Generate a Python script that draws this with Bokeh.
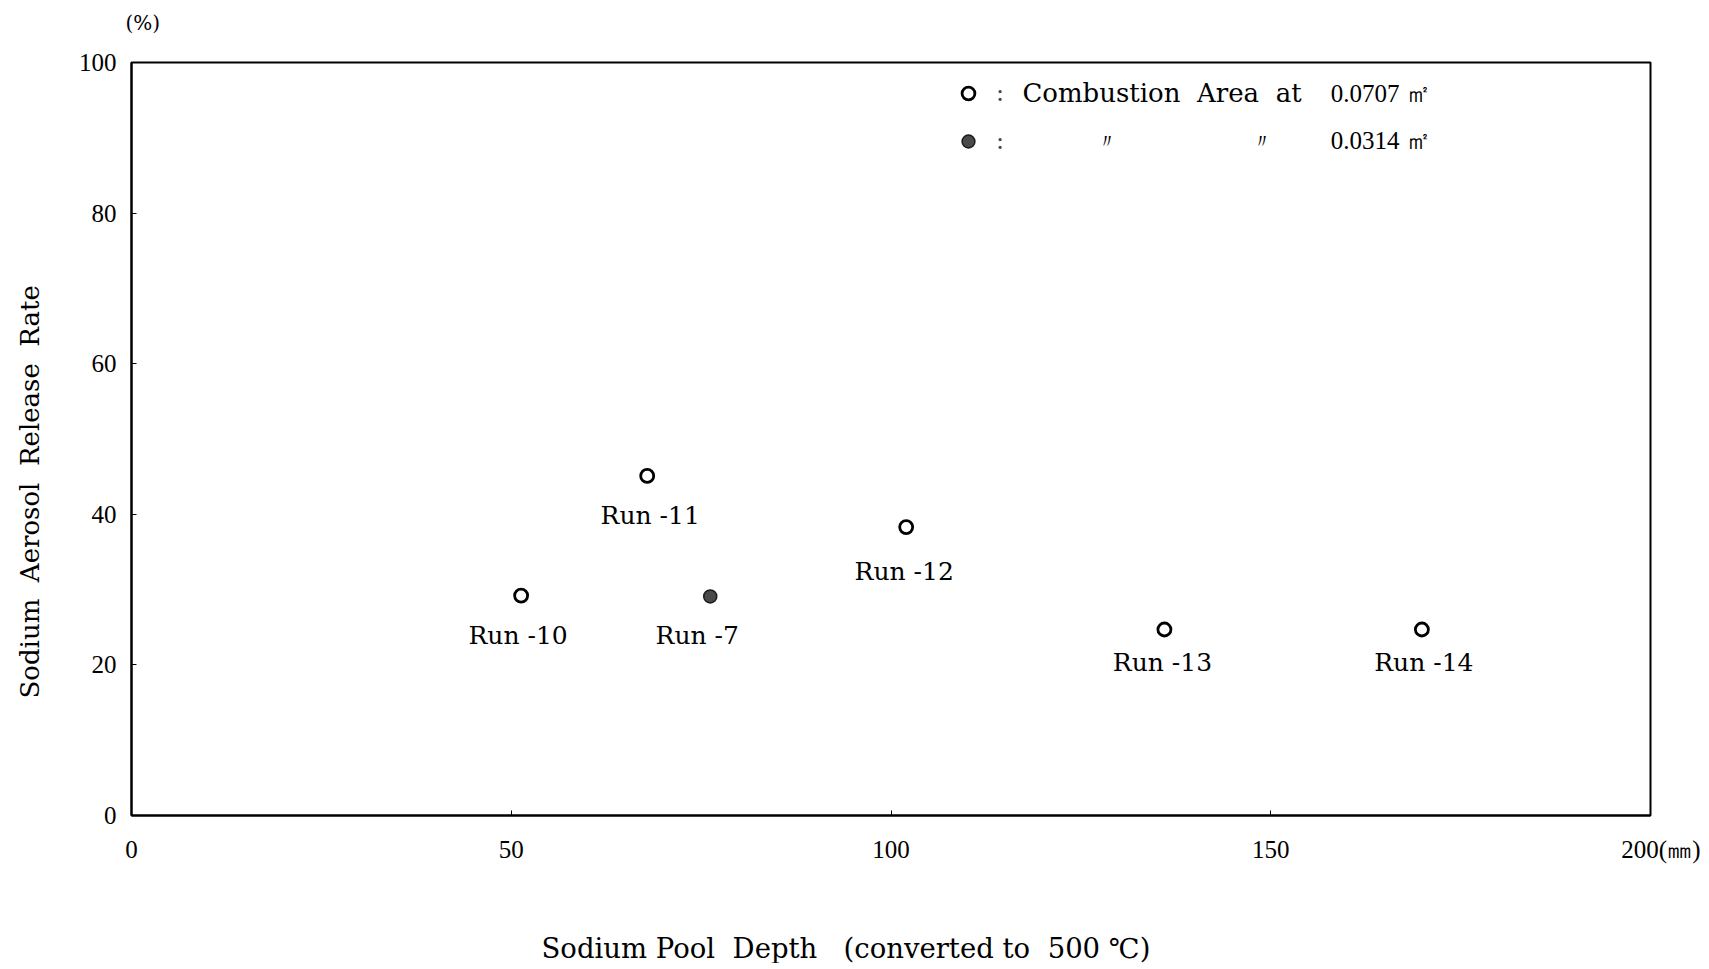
from bokeh.plotting import figure
from bokeh.models import Label, Legend, LegendItem, FixedTicker, Range1d, Title
from bokeh.core.properties import value
from bokeh.embed import file_html
from bokeh.resources import INLINE

# ---- data ----
open_runs = ["Run\u00a0-10", "Run\u00a0-11", "Run\u00a0-12", "Run\u00a0-13", "Run\u00a0-14"]
open_depth = [51.3, 67.9, 102.0, 136.0, 169.9]
open_rate = [29.2, 45.1, 38.3, 24.7, 24.7]

filled_runs = ["Run\u00a0-7"]
filled_depth = [76.2]
filled_rate = [29.1]

x_ticks = [0, 50, 100, 150, 200]
y_ticks = [0, 20, 40, 60, 80, 100]

# label offsets (screen px) for run names
open_dx = [-3, 3, -2, -2, 2]
open_dy = [40, 40, 44, 33, 33]
filled_dx = [-13]
filled_dy = [39]

SERIF = "DejaVu Serif"
NUMF = "Liberation Serif"
NB = "\u00a0"

p = figure(frame_width=1519, frame_height=753, output_backend="svg", toolbar_location=None,
           x_range=Range1d(0, 200), y_range=Range1d(0, 100),
           min_border_left=131, min_border_top=62, min_border_right=50, min_border_bottom=140)
p.background_fill_color = "white"
p.border_fill_color = "white"
p.grid.visible = False
p.outline_line_color = "black"
p.outline_line_width = 2

for ax in (p.xaxis, p.yaxis):
    ax.axis_line_color = "black"
    ax.axis_line_width = 2
    ax.major_tick_in = 5
    ax.major_tick_out = 0
    ax.minor_tick_line_color = None
    ax.major_tick_line_color = "black"
    ax.major_label_text_font = NUMF
    ax.major_label_text_font_size = "25px"
    ax.major_label_text_color = "black"
p.xaxis.ticker = FixedTicker(ticks=x_ticks)
p.yaxis.ticker = FixedTicker(ticks=y_ticks)
p.xaxis.major_label_standoff = 20
p.yaxis.major_label_standoff = 15
p.xaxis.major_label_overrides = {200: "\u2007\u2007\u2007200(㎜)"}

r_open = p.scatter(open_depth, open_rate, marker="circle", size=13, fill_color="white",
                   line_color="black", line_width=2.8)
r_fill = p.scatter(filled_depth, filled_rate, marker="circle", size=13, fill_color="#4a4a4a",
                   line_color="#1a1a1a", line_width=1.5)

p.text(open_depth, open_rate, text=open_runs, x_offset=open_dx, y_offset=open_dy,
       text_font=value(SERIF), text_font_size="25px", text_align="center",
       text_baseline="middle", text_color="black")
p.text(filled_depth, filled_rate, text=filled_runs, x_offset=filled_dx, y_offset=filled_dy,
       text_font=value(SERIF), text_font_size="25px", text_align="center",
       text_baseline="middle", text_color="black")

# legend (icons + colon)
legend = Legend(items=[LegendItem(label=":", renderers=[r_open]),
                       LegendItem(label=":", renderers=[r_fill])],
                location=(821, 658), padding=0, margin=0, spacing=16,
                glyph_width=32, glyph_height=32, label_height=32, label_standoff=12,
                border_line_color=None, background_fill_alpha=0,
                label_text_font=SERIF, label_text_font_size="24px")
p.add_layout(legend)

def lab(x, y, t, font=SERIF, size="24px", align="left"):
    p.add_layout(Label(x=x, y=y, text=t, text_font=font, text_font_size=size,
                       text_align=align, text_baseline="middle", text_color="black"))

lab(117.3, 95.9, "Combustion" + NB * 2 + "Area" + NB * 2 + "at", size="26px")
lab(157.9, 95.9, "0.0707 ㎡", font=NUMF, size="25px")
lab(128.4, 89.6, "〃", align="center", size="20px")
lab(148.8, 89.6, "〃", align="center", size="20px")
lab(157.9, 89.6, "0.0314 ㎡", font=NUMF, size="25px")

# axis titles and units (as titles so they sit outside the frame)
def ttl(text, place, align, offset, standoff, size, valign="bottom"):
    t = Title(text=text, align=align, offset=offset, standoff=standoff,
              text_font=SERIF, text_font_size=size, text_font_style="normal",
              text_color="black", vertical_align=valign)
    p.add_layout(t, place)

# spacer titles (blank) keep the real titles away from the axes
ttl(NB, "below", "left", 0, 51, "10px")
ttl("Sodium" + NB + "Pool" + NB * 2 + "Depth" + NB * 3 + "(converted" + NB + "to" + NB * 2 + "500" + NB + "℃)",
    "below", "left", 410, 0, "27.5px")
ttl(NB, "left", "left", 0, 18, "10px")
ttl("Sodium" + NB * 2 + "Aerosol" + NB * 2 + "Release" + NB * 2 + "Rate",
    "left", "left", 117, 0, "26px")
ttl(NB, "above", "left", 0, 15, "10px")
ttl("(%)", "above", "left", -6, 0, "20px")

open("out.html", "w").write(file_html(p, INLINE))
